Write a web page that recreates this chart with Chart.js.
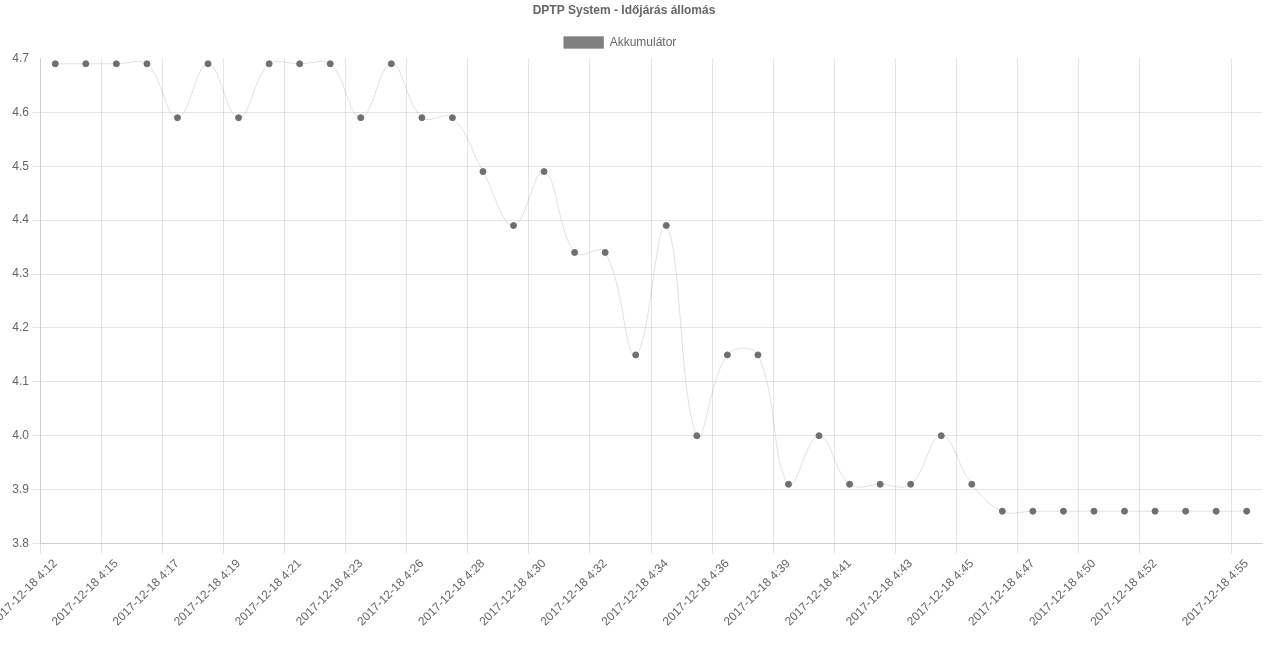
<!DOCTYPE html>
<html>
<head>
<meta charset="utf-8">
<script src="https://cdn.jsdelivr.net/npm/chart.js@4/dist/chart.umd.min.js"></script>
<style>
  html, body { margin: 0; padding: 0; background: #fff; }
  #wrap { width: 1280px; height: 666px; }
</style>
</head>
<body>
<div id="wrap"><canvas id="graph"></canvas></div>
<script>
const timeLabels = [
  "2017-12-18 4:12", "2017-12-18 4:13", "2017-12-18 4:15", "2017-12-18 4:16",
  "2017-12-18 4:17", "2017-12-18 4:18", "2017-12-18 4:19", "2017-12-18 4:20",
  "2017-12-18 4:21", "2017-12-18 4:22", "2017-12-18 4:23", "2017-12-18 4:25",
  "2017-12-18 4:26", "2017-12-18 4:27", "2017-12-18 4:28", "2017-12-18 4:29",
  "2017-12-18 4:30", "2017-12-18 4:31", "2017-12-18 4:32", "2017-12-18 4:33",
  "2017-12-18 4:34", "2017-12-18 4:35", "2017-12-18 4:36", "2017-12-18 4:38",
  "2017-12-18 4:39", "2017-12-18 4:40", "2017-12-18 4:41", "2017-12-18 4:42",
  "2017-12-18 4:43", "2017-12-18 4:44", "2017-12-18 4:45", "2017-12-18 4:46",
  "2017-12-18 4:47", "2017-12-18 4:49", "2017-12-18 4:50", "2017-12-18 4:51",
  "2017-12-18 4:52", "2017-12-18 4:53", "2017-12-18 4:54", "2017-12-18 4:55"
];

const akkuValues = [
  4.69, 4.69, 4.69, 4.69, 4.59, 4.69, 4.59, 4.69, 4.69, 4.69,
  4.59, 4.69, 4.59, 4.59, 4.49, 4.39, 4.49, 4.34, 4.34, 4.15,
  4.39, 4.00, 4.15, 4.15, 3.91, 4.00, 3.91, 3.91, 3.91, 4.00,
  3.91, 3.86, 3.86, 3.86, 3.86, 3.86, 3.86, 3.86, 3.86, 3.86
];

const yMin = 3.8;
const yMax = 4.7;
const yStep = 0.1;

// every other label, plus the last one (old autoskip look)
function shownTick(i) {
  const last = timeLabels.length - 1;
  return i === last || (i % 2 === 0 && i < last - 1);
}

const gridColor = 'rgba(0,0,0,0.1)';
const noColor = 'rgba(0,0,0,0)';
Chart.defaults.font.family = '"Liberation Sans", Arial, Helvetica, sans-serif';
Chart.defaults.font.size = 12;
Chart.defaults.color = '#666';

// title and legend sit a bit left of centre in the original
const nudgeHeader = {
  id: 'nudgeHeader',
  afterLayout(chart) {
    if (chart.titleBlock) chart.titleBlock.right -= 14;
    if (chart.legend) chart.legend.right -= 22;
  }
};

const ctx = document.getElementById('graph');

new Chart(ctx, {
  type: 'line',
  data: {
    labels: timeLabels,
    datasets: [{
      label: 'Akkumulátor',
      data: akkuValues,
      fill: false,
      tension: 0.4,
      borderWidth: 1,
      borderColor: 'rgba(0,0,0,0.12)',
      backgroundColor: 'rgba(128,128,128,1)',
      pointBackgroundColor: 'rgba(112,112,112,1)',
      pointBorderColor: 'rgba(112,112,112,1)',
      pointRadius: 3,
      pointBorderWidth: 1
    }]
  },
  options: {
    responsive: true,
    maintainAspectRatio: false,
    animation: false,
    layout: { padding: { left: 0, right: 18, top: 0, bottom: 34 } },
    plugins: {
      title: {
        display: true,
        text: 'DPTP System - Időjárás állomás',
        color: '#666',
        font: { size: 12, weight: 'bold' },
        padding: { top: 3, bottom: 9 }
      },
      legend: {
        labels: {
          boxWidth: 40,
          boxHeight: 12,
          color: '#666',
          padding: 10
        }
      },
      tooltip: { enabled: false }
    },
    scales: {
      x: {
        offset: true,
        grid: {
          offset: true,
          color: c => shownTick(c.index) ? gridColor : noColor,
          tickLength: 10
        },
        border: { color: gridColor },
        ticks: {
          autoSkip: false,
          maxRotation: 45,
          minRotation: 45,
          color: '#666',
          callback: (v, i) => shownTick(i) ? timeLabels[i] : ''
        },
        afterFit: s => { s.paddingLeft = 0; }
      },
      y: {
        min: yMin,
        max: yMax,
        grid: {
          color: c => (c.tick && c.tick.value > yMax - 0.001) ? noColor : gridColor,
          tickLength: 8
        },
        border: { color: gridColor },
        ticks: {
          stepSize: yStep,
          color: '#666',
          callback: v => v.toFixed(1)
        },
        afterFit: s => { s.width = 40; }
      }
    }
  },
  plugins: [nudgeHeader]
});
</script>
</body>
</html>
